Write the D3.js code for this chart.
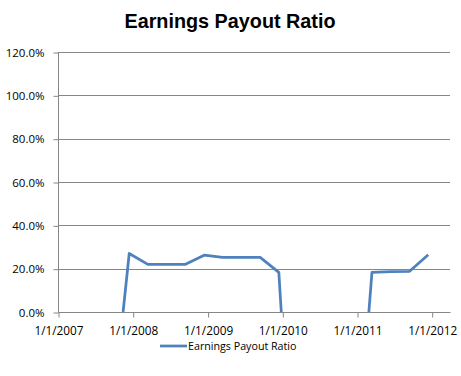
<!DOCTYPE html>
<html>
<head>
<meta charset="utf-8">
<script src="https://cdn.jsdelivr.net/npm/d3@7"></script>
<style>
  body { margin: 0; background: #fff; }
  text { font-family: "Open Sans", sans-serif; }
</style>
</head>
<body>
<div id="chart"></div>
<script>
// quarterly points, two segments (2010 has no values)
const segment1Dates = ["2007-11-15", "2007-12-15", "2008-03-15", "2008-06-15", "2008-09-15",
                       "2008-12-15", "2009-03-15", "2009-06-15", "2009-09-15", "2009-12-15", "2009-12-27"];
const segment1Values = [0, 0.27, 0.22, 0.22, 0.22, 0.262, 0.252, 0.252, 0.252, 0.183, 0];
const segment2Dates = ["2011-02-28", "2011-03-15", "2011-06-15", "2011-09-15", "2011-12-15"];
const segment2Values = [0, 0.183, 0.186, 0.188, 0.264];
const xTickLabels = ["1/1/2007", "1/1/2008", "1/1/2009", "1/1/2010", "1/1/2011", "1/1/2012"];
const yTicks = [0, 0.2, 0.4, 0.6, 0.8, 1.0, 1.2];

const W = 461, H = 376;
const plot = {left: 58, right: 450, top: 52, bottom: 312};
const parse = d3.timeParse("%Y-%m-%d");
const tickParse = d3.timeParse("%m/%d/%Y");

const svg = d3.select("#chart").append("svg")
    .attr("width", W)
    .attr("height", H);

const x = d3.scaleTime()
    .domain([tickParse("1/1/2007"), tickParse("1/1/2012")])
    .range([plot.left, 431.7]);

const y = d3.scaleLinear()
    .domain([0, 1.2])
    .range([plot.bottom, plot.top]);

// title
svg.append("text")
    .attr("x", 230)
    .attr("y", 28)
    .attr("text-anchor", "middle")
    .style("font-family", "'Liberation Sans', sans-serif")
    .style("font-weight", "bold")
    .style("font-size", "19.8px")
    .text("Earnings Payout Ratio");

// gridlines
svg.append("g")
  .selectAll("line")
  .data(yTicks.filter(d => d > 0))
  .join("line")
    .attr("x1", plot.left)
    .attr("x2", plot.right)
    .attr("y1", d => Math.round(y(d)) + 0.5)
    .attr("y2", d => Math.round(y(d)) + 0.5)
    .attr("stroke", "#868686")
    .attr("stroke-width", 1);

// y axis
const yAxis = svg.append("g")
    .attr("transform", `translate(${plot.left + 0.5},0.5)`)
    .call(d3.axisLeft(y).tickValues(yTicks).tickFormat(d3.format(".1%")).tickSize(5).tickPadding(9));
yAxis.select(".domain").attr("stroke", "#868686").attr("d", `M0,${plot.top}V${plot.bottom}`);
yAxis.selectAll(".tick line").attr("stroke", "#868686");
yAxis.selectAll(".tick text")
    .attr("fill", "#000")
    .style("font-size", "11.5px")
    .style("font-family", "'Open Sans', sans-serif");

// x axis
const xAxis = svg.append("g")
    .attr("transform", `translate(0.5,${plot.bottom + 0.5})`)
    .call(d3.axisBottom(x)
      .tickValues(xTickLabels.map(tickParse))
      .tickFormat((d, i) => xTickLabels[i])
      .tickSize(5).tickPadding(9));
xAxis.select(".domain").attr("stroke", "#868686").attr("d", `M${plot.left},0H${plot.right}`);
xAxis.selectAll(".tick line").attr("stroke", "#868686");
xAxis.selectAll(".tick text")
    .attr("fill", "#000")
    .style("font-size", "11.8px")
    .style("font-family", "'Open Sans', sans-serif");

// series
const line = d3.line()
    .x(d => x(d.date))
    .y(d => y(d.value));

const segments = [
  segment1Dates.map((d, i) => ({date: parse(d), value: segment1Values[i]})),
  segment2Dates.map((d, i) => ({date: parse(d), value: segment2Values[i]}))
];

svg.append("g")
  .selectAll("path")
  .data(segments)
  .join("path")
    .attr("fill", "none")
    .attr("stroke", "#4F81BD")
    .attr("stroke-width", 2.75)
    .attr("stroke-linejoin", "round")
    .attr("d", line);

// legend
const legend = svg.append("g");
legend.append("line")
    .attr("x1", 160).attr("x2", 187)
    .attr("y1", 346).attr("y2", 346)
    .attr("stroke", "#4F81BD")
    .attr("stroke-width", 2.75);
legend.append("text")
    .attr("x", 188)
    .attr("y", 349.5)
    .attr("fill", "#000")
    .style("font-size", "10.7px")
    .text("Earnings Payout Ratio");
</script>
</body>
</html>
